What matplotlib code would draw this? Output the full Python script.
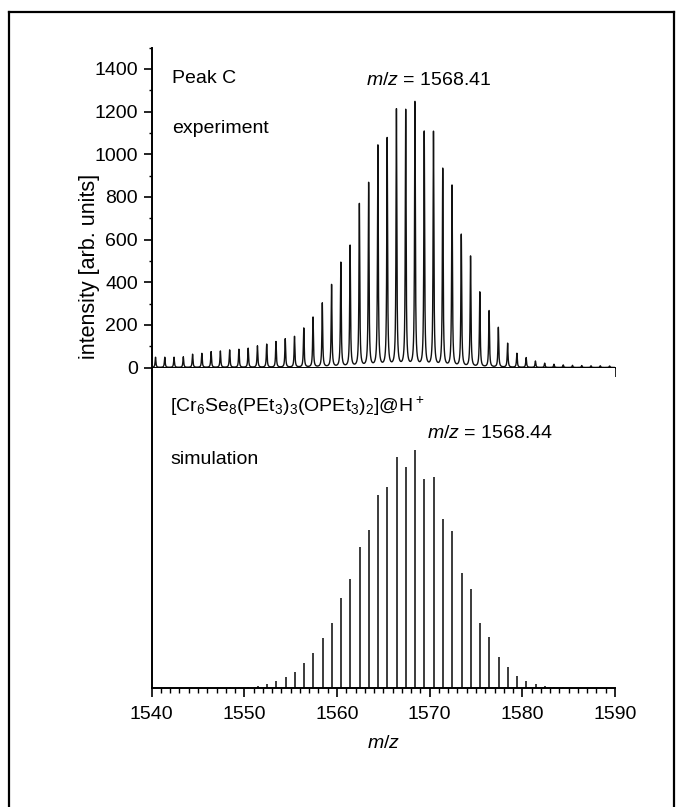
import numpy as np
import matplotlib
matplotlib.use('Agg')
import matplotlib.pyplot as plt
from matplotlib.lines import Line2D
from matplotlib.ticker import MultipleLocator

plt.rcParams['font.family'] = ['Liberation Sans', 'DejaVu Sans']
plt.rcParams['mathtext.fontset'] = 'custom'
plt.rcParams['mathtext.rm'] = 'Liberation Sans'
plt.rcParams['mathtext.it'] = 'Liberation Sans:italic'
plt.rcParams['font.size'] = 14

# experiment: isotope peak centres (m/z) and heights
exp_mz = np.arange(1540, 1590) + 0.41
exp_int = [48, 48, 48, 50, 62, 66, 74, 77, 82, 85,
           90, 101, 109, 121, 134, 145, 184, 235, 301, 387,
           491, 570, 765, 863, 1038, 1072, 1207, 1204, 1241, 1102,
           1102, 929, 851, 621, 520, 352, 265, 187, 113, 66,
           46, 30, 20, 15, 12, 10, 9, 8, 8, 7]

# simulation: stick spectrum, relative intensity (%)
sim_mz = np.arange(1548, 1585) + 0.44
sim_int = [0.1, 0.2, 0.45, 0.85, 1.7, 2.7, 4.3, 6.7, 10.2, 14.4,
           20.8, 27.1, 37.6, 45.6, 59.0, 66.3, 81.1, 84.3, 96.9, 92.7,
           100, 87.7, 88.5, 70.8, 65.9, 48.4, 41.4, 27.3, 21.2, 13.0,
           8.6, 4.9, 2.8, 1.5, 0.75, 0.35, 0.15]

W, H = 677, 807
fig = plt.figure(figsize=(W / 100, H / 100), dpi=100)

# narrow lorentzian line shape for each measured peak
mz = np.arange(1539.6, 1590.6, 0.004)
gam = 0.05
profile = np.zeros_like(mz)
for c, h in zip(exp_mz, exp_int):
    profile += h * gam**2 / ((mz - c)**2 + gam**2)

left = 151.7 / W
width = (615 - 151.7) / W
ax1 = fig.add_axes([left, 1 - 367.5 / H, width, 320 / H])
ax2 = fig.add_axes([left, 1 - 687.7 / H, width, 320.2 / H])

ax1.plot(mz, profile, color='#111111', lw=1.0)
ax2.vlines(sim_mz, 0, sim_int, color='#1a1a1a', lw=1.2)

for ax in (ax1, ax2):
    ax.set_xlim(1540, 1590)
    ax.spines['top'].set_visible(False)
    ax.spines['right'].set_visible(False)
    ax.spines['left'].set_linewidth(1.4)
    ax.spines['bottom'].set_linewidth(1.4)
    ax.xaxis.set_major_locator(MultipleLocator(10))
    ax.xaxis.set_minor_locator(MultipleLocator(1))
    ax.tick_params(axis='x', which='major', direction='out', length=6.5, width=1.2, pad=7)
    ax.tick_params(axis='x', which='minor', direction='out', length=3.6, width=1.0)

ax1.set_ylim(0, 1500)
ax1.yaxis.set_major_locator(MultipleLocator(200))
ax1.yaxis.set_minor_locator(MultipleLocator(100))
ax1.tick_params(axis='y', which='major', direction='out', length=6, width=1.2, pad=4)
ax1.tick_params(axis='y', which='minor', direction='out', length=2.5, width=1.0)
ax1.tick_params(axis='x', labelbottom=False)

ax2.set_ylim(0, 134.6)
ax2.set_yticks([])
ax2.set_xlabel('$m/z$', labelpad=8)

# annotations
ax1.text(1542.16, 1334, 'Peak C', ha='left', va='baseline')
ax1.text(1542.16, 1098, 'experiment', ha='left', va='baseline')
ax1.text(1569.87, 1324, '$m/z$ = 1568.41', ha='center', va='baseline')
ax2.text(1542.0, 116, '[Cr$_6$Se$_8$(PEt$_3$)$_3$(OPEt$_3$)$_2$]@H$^+$',
         ha='left', va='baseline')
ax2.text(1542.0, 94, 'simulation', ha='left', va='baseline')
ax2.text(1576.5, 104.8, '$m/z$ = 1568.44', ha='center', va='baseline')

fig.text(89 / W, 1 - 266 / H, 'intensity [arb. units]', rotation=90,
         ha='center', va='center', fontsize=15.5)

# page frame (left, top, right)
fx0, fx1, fy = 9 / W, 674 / W, 1 - 11.7 / H
fig.add_artist(Line2D([fx0, fx0], [0, fy], color='black', lw=1.6))
fig.add_artist(Line2D([fx0, fx1], [fy, fy], color='black', lw=1.6))
fig.add_artist(Line2D([fx1, fx1], [0, fy], color='black', lw=1.6))

fig.savefig('out.png', dpi=100)
